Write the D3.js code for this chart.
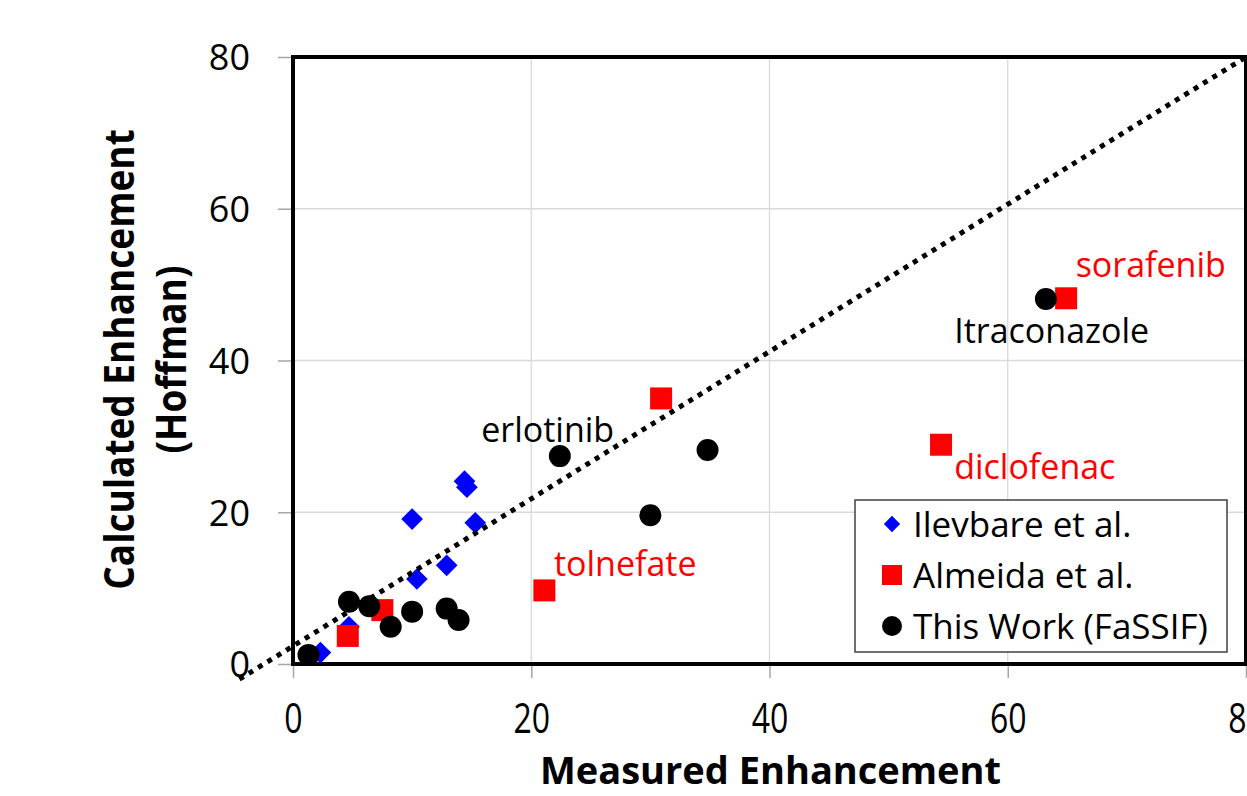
<!DOCTYPE html>
<html><head><meta charset="utf-8">
<script src="https://cdn.jsdelivr.net/npm/d3@7"></script>
<style>body{margin:0;background:#fff}svg{display:block}text{font-family:"Open Sans",sans-serif}</style>
</head><body><div id="chart"></div>
<script>
const xTicks = [0, 20, 40, 60, 80];
const yTicks = [0, 20, 40, 60, 80];
const ilevbare = [[2.3,1.5],[4.7,4.9],[10.0,19.1],[10.4,11.2],[12.9,13.0],[14.4,24.1],[14.6,23.3],[15.3,18.6]];
const almeida = [[4.6,3.7],[7.5,7.1],[21.1,9.7],[30.9,35.0],[54.4,28.9],[64.9,48.2]];
const thisWork = [[1.3,1.2],[4.7,8.2],[6.4,7.6],[8.2,4.9],[10.0,6.9],[12.9,7.3],[13.9,5.8],[22.4,27.4],[30.0,19.6],[34.8,28.2],[63.2,48.1]];
const refLine = [[-4.5,-2.0],[80,80]];
const annotations = [
  {text:"sorafenib", x:65.7, y:51.0, color:"#ff0000"},
  {text:"Itraconazole", x:55.5, y:42.3, color:"#000000"},
  {text:"erlotinib", x:15.8, y:29.2, color:"#000000"},
  {text:"diclofenac", x:55.5, y:24.4, color:"#ff0000"},
  {text:"tolnefate", x:21.9, y:11.6, color:"#ff0000"}
];
const legendItems = ["Ilevbare et al.", "Almeida et al.", "This Work (FaSSIF)"];
const xTitle = "Measured Enhancement";
const yTitle = ["Calculated Enhancement", "(Hoffman)"];

const W = 1247, H = 796;
const svg = d3.select("#chart").append("svg").attr("width", W).attr("height", H);
const x = d3.scaleLinear().domain([0, 80]).range([293, 1246]);
const y = d3.scaleLinear().domain([0, 80]).range([664, 57]);

// gridlines
svg.append("g").selectAll("line").data(xTicks.slice(1, -1)).join("line")
  .attr("x1", d => x(d)).attr("x2", d => x(d)).attr("y1", y(80)).attr("y2", y(0))
  .attr("stroke", "#d9d9d9").attr("stroke-width", 1.3);
svg.append("g").selectAll("line").data(yTicks.slice(1, -1)).join("line")
  .attr("y1", d => y(d)).attr("y2", d => y(d)).attr("x1", x(0)).attr("x2", x(80))
  .attr("stroke", "#d9d9d9").attr("stroke-width", 1.3);

// axes
const ks = 1.3; // vertical stretch of the x tick labels (tall narrow face in the original)
const yAxis = svg.append("g").attr("transform", `translate(${x(0)},0)`)
  .call(d3.axisLeft(y).tickValues(yTicks).tickFormat(d3.format("d")).tickSize(15).tickPadding(28));
const xAxis = svg.append("g").attr("transform", `translate(0,${y(0)})`)
  .call(d3.axisBottom(x).tickValues(xTicks).tickFormat(d3.format("d")).tickSize(14).tickPadding(26));
[yAxis, xAxis].forEach(g => {
  g.select(".domain").remove();
  g.selectAll(".tick line").attr("stroke", "#a6a6a6").attr("stroke-width", 1.5);
  g.selectAll(".tick text").attr("fill", "#000").style("font-family", "'Open Sans',sans-serif");
});
yAxis.selectAll(".tick text").style("font-size", "36px").attr("dy", "0.36em");
xAxis.selectAll(".tick text").style("font-size", "32px").attr("y", 30.2).attr("transform", `scale(1,${ks})`);

// frame
svg.append("rect").attr("x", x(0)).attr("y", y(80)).attr("width", x(80) - x(0)).attr("height", y(0) - y(80))
  .attr("fill", "none").attr("stroke", "#000").attr("stroke-width", 4);

const plot = svg.append("g");
plot.selectAll(".dia").data(ilevbare).join("path").attr("class", "dia")
  .attr("d", d3.symbol(d3.symbolDiamond2, 300))
  .attr("transform", d => `translate(${x(d[0])},${y(d[1])})`).attr("fill", "#0000ff");
plot.selectAll(".sq").data(almeida).join("rect").attr("class", "sq")
  .attr("x", d => x(d[0]) - 11).attr("y", d => y(d[1]) - 11).attr("width", 22).attr("height", 22).attr("fill", "#ff0000");
plot.selectAll(".dot").data(thisWork).join("circle").attr("class", "dot")
  .attr("cx", d => x(d[0])).attr("cy", d => y(d[1])).attr("r", 11).attr("fill", "#000");

// dotted reference line
svg.append("path").datum(refLine)
  .attr("d", d3.line().x(d => x(d[0])).y(d => y(d[1])))
  .attr("stroke", "#000").attr("stroke-width", 5).attr("stroke-dasharray", "5,6").attr("fill", "none");

// annotations
svg.append("g").selectAll("text").data(annotations).join("text")
  .attr("x", d => x(d.x)).attr("y", d => y(d.y)).attr("fill", d => d.color)
  .style("font-size", "34px").text(d => d.text);

// axis titles
svg.append("text").attr("x", (x(0) + x(80)) / 2 + 1).attr("y", 784).attr("text-anchor", "middle")
  .style("font-size", "38px").style("font-weight", "bold").text(xTitle);
yTitle.forEach((t, i) => {
  svg.append("text").attr("transform", `translate(${134 + i * 52},${y(40) - 1}) rotate(-90) scale(1,1.1)`)
    .attr("text-anchor", "middle").style("font-size", "37px").style("font-weight", "bold").text(t);
});

// legend
const lg = svg.append("g").attr("transform", "translate(855,500)");
lg.append("rect").attr("width", 372).attr("height", 152).attr("fill", "#fff").attr("stroke", "#404040").attr("stroke-width", 1.5);
legendItems.forEach((t, i) => {
  const cy = 24 + i * 51;
  const g = lg.append("g").attr("transform", `translate(37,${cy})`);
  if (i === 0) g.append("path").attr("d", d3.symbol(d3.symbolDiamond2, 170)).attr("fill", "#0000ff");
  else if (i === 1) g.append("rect").attr("x", -10).attr("y", -10).attr("width", 20).attr("height", 20).attr("fill", "#ff0000");
  else g.append("circle").attr("r", 10).attr("fill", "#000");
  lg.append("text").attr("x", 58).attr("y", cy).attr("dy", "0.36em").style("font-size", "35px").text(t);
});
</script></body></html>
